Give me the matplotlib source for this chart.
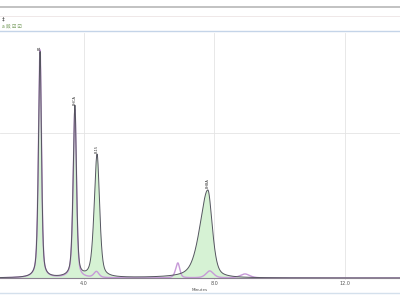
import numpy as np
import matplotlib
matplotlib.use("Agg")
import matplotlib.pyplot as plt

# ---- data ----
peak_labels = ["B1", "BHCA", "B-15", "BHBA"]
sample_rt = [2.65, 3.72, 4.40, 7.80]          # minutes
sample_height = [226, 171, 123, 88]
sample_wl = [0.05, 0.055, 0.09, 0.25]          # left half-widths (min)
sample_wr = [0.045, 0.05, 0.08, 0.14]          # right half-widths (min)

ref_rt = [2.65, 3.72, 4.38, 6.88, 7.86, 8.94]
ref_height = [228, 168, 6, 15, 7, 4]
ref_wl = [0.05, 0.055, 0.08, 0.07, 0.12, 0.15]
ref_wr = [0.045, 0.05, 0.08, 0.06, 0.12, 0.15]

xticks = [4.0, 8.0, 12.0]
xtick_labels = ["4.0", "8.0", "12.0"]
x_min, x_max = 1.42, 13.7


def trace(t, rts, hs, wl, wr, eta=0.5):
    y = np.zeros_like(t)
    for r, h, a, b in zip(rts, hs, wl, wr):
        w = np.where(t < r, a, b)
        g = np.exp(-0.5 * ((t - r) / w) ** 2)
        lo = 1.0 / (1.0 + ((t - r) / (1.1 * w)) ** 2)
        y += h * ((1 - eta) * g + eta * lo)
    return y


t = np.linspace(x_min, x_max, 4000)
y_s = trace(t, sample_rt, sample_height, sample_wl, sample_wr)
y_r = trace(t, ref_rt, ref_height, ref_wl, ref_wr)

fig = plt.figure(figsize=(4, 3), dpi=100)
fig.patch.set_facecolor("white")

# toolbar decoration
fig.add_artist(plt.Line2D([0, 1], [1 - 7 / 300, 1 - 7 / 300], color="#b8b8b8", lw=1.2))
fig.add_artist(plt.Line2D([0, 1], [1 - 16 / 300, 1 - 16 / 300], color="#ece4e4", lw=0.6))
fig.add_artist(plt.Line2D([0, 1], [1 - 31 / 300, 1 - 31 / 300], color="#c4d4e8", lw=1.0))
fig.add_artist(plt.Line2D([0, 1], [1 - 293 / 300, 1 - 293 / 300], color="#d4e0ec", lw=1.0))
fig.text(0.005, 1 - 19 / 300, "‡", fontsize=4, color="#333333", va="center")
fig.text(0.005, 1 - 26 / 300, "a 㸚 ☑ ☑", fontsize=3.5, color="#5f8a40", va="center",
         family=["Noto Sans CJK SC", "DejaVu Sans"])

ax = fig.add_axes([0, 20 / 300, 1, 1 - 33 / 300 - 20 / 300])
ax.set_xlim(x_min, x_max)
ax.set_ylim(-2, 245)
for s in ax.spines.values():
    s.set_visible(False)

ax.grid(True, color="#e4e4e4", lw=0.6)
ax.set_yticks([145])
ax.set_yticklabels([])
ax.set_xticks(xticks)
ax.set_xticklabels(xtick_labels, fontsize=3.5, color="#555555")
ax.tick_params(axis="both", length=0, pad=1)
ax.set_axisbelow(True)

ax.fill_between(t, 0, y_s, color="#d6f2d4", lw=0)
ax.plot(t, y_r, color="#c79ad8", lw=1.0)
ax.plot(t, y_s, color="#555560", lw=0.7)
ax.axhline(0, color="#8a8090", lw=0.8)

for r, h, lab in zip(sample_rt, sample_height, peak_labels):
    ax.text(r, h + 2, lab, rotation=90, fontsize=2.5, ha="center", va="bottom",
            color="#333333")

ax.set_xlabel("Minutes", fontsize=3, color="#555555", labelpad=1)

fig.savefig("out.png", dpi=100, facecolor="white")
